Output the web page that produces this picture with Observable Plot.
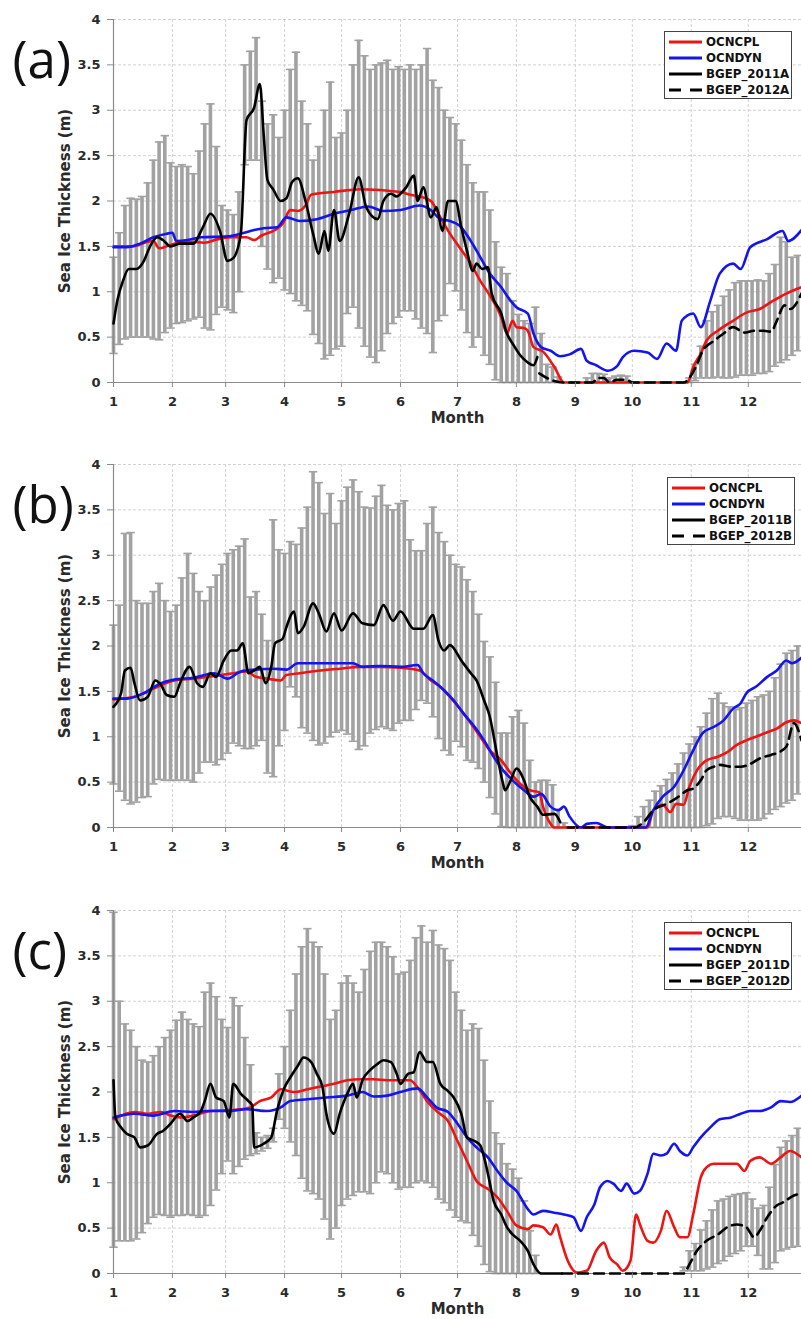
<!DOCTYPE html>
<html><head><meta charset="utf-8">
<script src="https://cdn.jsdelivr.net/npm/d3@7"></script>
<script src="https://cdn.jsdelivr.net/npm/@observablehq/plot@0.6"></script>
<style>
body{margin:0;background:#fff;}
#chart{position:relative;width:801px;height:1319px;overflow:hidden;font-family:"DejaVu Sans",sans-serif;}
.panel{position:absolute;left:0;}
.legend{position:absolute;}
</style></head><body><div id="chart"></div>
<script>
// ---- axes ----
const monthStarts = [0,31,59,90,120,151,181,212,243,273,304,334];   // day of year at start of each month
const monthLabels = ["1","2","3","4","5","6","7","8","9","10","11","12"];
const yTicks = [0,0.5,1,1.5,2,2.5,3,3.5,4];
const barStep = 3; // days between error bars
const seriesNames = ["OCNCPL","OCNDYN"];

// ---- panel (a) ----
const hiA = [1.38,1.65,1.95,2.03,2.02,2.05,2.2,2.45,2.65,2.72,2.42,2.38,2.4,2.38,2.3,2.55,2.85,3.07,2.6,1.95,1.9,1.85,2.1,3.5,3.65,3.8,3.1,2.85,2.95,2.7,3.0,3.45,3.64,3.1,2.85,2.45,2.6,3.0,3.31,2.7,2.75,3.0,3.5,3.77,3.6,3.45,3.5,3.52,3.55,3.45,3.48,3.45,3.5,3.45,3.5,3.68,3.33,3.25,3.0,2.92,2.85,2.67,2.4,2.2,2.1,2.1,1.9,1.55,1.27,1.2,0.9,0.75,0.68,0.65,0.83,0.54,0.2,0.17,0.06,null,null,null,null,0.05,0.1,0.1,0.09,0.05,0.07,0.08,0.07,null,null,null,null,null,null,null,null,null,null,0.05,0.2,0.4,0.68,0.78,0.85,0.95,1.02,1.1,1.12,1.12,1.12,1.13,1.12,1.2,1.3,1.6,1.55,1.38,1.4];
const loA = [0.32,0.42,0.48,0.5,0.5,0.5,0.5,0.48,0.47,0.55,0.6,0.65,0.66,0.68,0.7,0.72,0.6,0.58,0.75,0.83,0.8,0.77,1.0,2.4,2.45,2.45,1.5,1.25,1.1,1.15,1.02,0.98,0.9,0.85,0.79,0.53,0.43,0.26,0.3,0.37,0.4,0.76,0.83,0.6,0.4,0.28,0.22,0.35,0.54,0.65,0.72,0.79,0.79,0.7,0.6,0.54,0.33,0.68,0.74,1.09,1.01,0.8,0.55,0.39,0.5,0.3,0.2,0.03,0,0,0,0,0,0,0,0,0,0,0,null,null,null,null,0,0,0,0,0,0,0,0,null,null,null,null,null,null,null,null,null,null,0,0.02,0.05,0.05,0.05,0.06,0.05,0.05,0.06,0.08,0.08,0.08,0.1,0.1,0.12,0.18,0.22,0.25,0.3,0.35];
const redA = [[0,1.5],[10,1.5],[18,1.55],[21,1.56],[24,1.48],[28,1.5],[32,1.53],[40,1.55],[48,1.54],[55,1.58],[62,1.6],[70,1.6],[74,1.57],[78,1.62],[85,1.68],[89,1.75],[93,1.9],[97,1.89],[101,1.95],[104,2.07],[116,2.1],[130,2.13],[151,2.1],[156,2.07],[161,2.05],[167,2.0],[172,1.82],[177,1.64],[182,1.49],[188,1.31],[193,1.12],[198,0.96],[204,0.72],[207,0.54],[210,0.68],[212,0.61],[216,0.6],[218,0.57],[221,0.39],[226,0.34],[232,0.17],[237,0],[302,0],[305,0.17],[309,0.32],[312,0.46],[318,0.57],[326,0.68],[333,0.77],[340,0.81],[347,0.9],[354,0.98],[362,1.05]];
const blueA = [[0,1.49],[7,1.49],[14,1.53],[21,1.6],[28,1.64],[31,1.65],[33,1.56],[39,1.57],[46,1.6],[60,1.61],[67,1.64],[74,1.68],[79,1.7],[86,1.71],[91,1.82],[98,1.78],[107,1.8],[116,1.86],[125,1.9],[134,1.94],[142,1.89],[151,1.9],[161,1.95],[167,1.9],[172,1.8],[177,1.78],[182,1.73],[188,1.56],[193,1.38],[198,1.2],[204,1.05],[209,0.9],[212,0.83],[218,0.76],[221,0.54],[225,0.39],[230,0.35],[235,0.29],[240,0.31],[246,0.37],[249,0.24],[254,0.19],[260,0.13],[265,0.18],[268,0.28],[274,0.35],[281,0.33],[286,0.26],[291,0.43],[296,0.35],[299,0.68],[305,0.76],[309,0.61],[314,0.9],[319,1.2],[326,1.31],[330,1.25],[335,1.49],[344,1.58],[352,1.67],[355,1.56],[362,1.68]];
const blackA = [[0,0.65],[2,0.9],[5,1.12],[8,1.25],[12,1.25],[16,1.34],[19,1.49],[23,1.6],[26,1.57],[30,1.5],[35,1.53],[42,1.53],[47,1.71],[51,1.86],[56,1.67],[60,1.34],[63,1.37],[67,1.64],[70,2.89],[74,3.03],[77,3.29],[79,2.74],[81,2.23],[84,2.13],[88,2.0],[91,2.03],[94,2.21],[97,2.25],[101,2.0],[105,1.64],[108,1.42],[111,1.67],[113,1.45],[116,1.9],[119,1.56],[124,1.86],[129,2.26],[133,1.93],[139,1.8],[142,2.0],[146,2.08],[149,2.05],[151,2.08],[154,2.15],[158,2.28],[160,2.0],[163,2.15],[167,1.82],[170,1.93],[173,1.67],[176,2.0],[180,2.0],[183,1.71],[186,1.45],[189,1.23],[191,1.31],[194,1.25],[197,1.27],[199,0.98],[204,0.76],[207,0.54],[210,0.43],[214,0.3],[218,0.22],[221,0.19],[223,0.28]];
const dashA = [[224,0.1],[228,0.05],[237,0],[252,0],[255,0.05],[258,0.05],[261,0],[265,0.03],[270,0.03],[273,0],[300,0],[303,0.05],[307,0.2],[310,0.35],[316,0.46],[321,0.54],[326,0.61],[332,0.55],[337,0.57],[342,0.57],[346,0.56],[349,0.68],[353,0.85],[356,0.81],[362,0.98]];

// ---- panel (b) ----
const hiB = [2.23,2.45,3.24,3.25,2.5,2.47,2.47,2.6,2.69,2.5,2.38,2.45,2.75,3.02,2.8,2.6,2.5,2.65,2.78,2.9,3.02,3.06,3.1,3.18,2.54,2.6,2.35,2.06,3.39,3.06,3.02,3.15,3.12,3.3,3.53,3.92,3.8,3.46,3.68,3.35,3.6,3.75,3.83,3.7,3.53,3.52,3.65,3.77,3.55,3.5,3.57,3.6,3.17,3.05,3.05,3.35,3.53,3.25,3.15,3.0,2.9,2.87,2.73,2.6,2.35,2.05,1.88,1.6,1.04,1.04,1.22,1.29,1.15,0.74,0.5,0.52,0.52,0.47,0.2,0.05,null,null,null,null,null,null,null,null,null,null,null,0.02,0.12,0.23,0.3,0.4,0.46,0.53,0.6,0.7,0.82,0.92,1.0,1.11,1.26,1.42,1.48,1.37,1.33,1.3,1.32,1.37,1.4,1.44,1.46,1.5,1.65,1.8,1.92,1.95,2.0];
const loB = [0.48,0.4,0.3,0.26,0.28,0.33,0.34,0.48,0.53,0.52,0.52,0.52,0.52,0.52,0.5,0.6,0.72,0.72,0.69,0.75,0.82,0.93,0.9,0.87,0.87,0.9,0.96,0.6,0.56,0.9,1.07,1.55,1.44,1.1,1.04,0.96,0.91,0.93,1.0,1.05,1.07,1.03,0.95,0.86,0.9,1.04,1.08,1.11,1.09,1.07,1.15,1.18,1.18,1.3,1.4,1.37,1.22,0.98,0.85,0.8,0.95,0.89,0.74,0.72,0.65,0.5,0.33,0.15,0.01,0,0,0,0,0,0,0,0,0,0,0,null,null,null,null,null,null,null,null,null,null,null,0,0,0,0,0,0,0,0,0,0,0,0,0,0.02,0.04,0.1,0.12,0.12,0.1,0.08,0.08,0.08,0.08,0.1,0.15,0.2,0.23,0.27,0.3,0.37];
const redB = [[0,1.41],[11,1.44],[21,1.53],[32,1.62],[42,1.64],[53,1.67],[63,1.7],[70,1.72],[75,1.66],[81,1.64],[88,1.62],[91,1.68],[98,1.7],[109,1.73],[119,1.75],[130,1.77],[140,1.77],[151,1.76],[161,1.73],[167,1.62],[172,1.55],[177,1.44],[183,1.29],[188,1.15],[193,1.0],[198,0.85],[204,0.74],[209,0.6],[214,0.48],[219,0.41],[224,0.39],[226,0.23],[230,0.04],[232,0],[281,0],[284,0.19],[289,0.25],[293,0.17],[296,0.26],[300,0.25],[303,0.45],[307,0.63],[312,0.74],[318,0.78],[323,0.83],[328,0.91],[333,0.96],[338,1.0],[344,1.05],[349,1.09],[354,1.16],[358,1.18],[362,1.15]];
const blueB = [[0,1.42],[7,1.42],[16,1.48],[25,1.59],[32,1.63],[42,1.65],[53,1.7],[60,1.64],[67,1.72],[75,1.74],[84,1.75],[91,1.74],[97,1.81],[109,1.81],[119,1.81],[126,1.81],[131,1.77],[140,1.78],[151,1.77],[160,1.79],[163,1.7],[168,1.62],[174,1.51],[179,1.4],[184,1.26],[190,1.11],[195,0.96],[200,0.78],[205,0.63],[210,0.52],[216,0.41],[221,0.34],[225,0.37],[230,0.23],[234,0.19],[237,0.23],[240,0.12],[246,0],[249,0.04],[254,0.05],[260,0],[280,0],[284,0.19],[289,0.34],[295,0.45],[300,0.63],[305,0.85],[310,1.04],[316,1.11],[321,1.18],[326,1.31],[330,1.37],[333,1.48],[338,1.55],[344,1.66],[349,1.73],[354,1.84],[357,1.81],[362,1.87]];
const blackB = [[0,1.33],[4,1.48],[6,1.73],[9,1.76],[11,1.59],[14,1.4],[18,1.44],[22,1.62],[25,1.57],[28,1.46],[32,1.44],[35,1.59],[40,1.77],[44,1.59],[47,1.55],[51,1.7],[54,1.66],[58,1.84],[62,1.95],[65,1.95],[68,2.03],[71,1.7],[74,1.73],[77,1.77],[80,1.59],[83,1.77],[85,2.03],[89,2.08],[91,2.21],[95,2.38],[97,2.14],[100,2.21],[105,2.47],[108,2.36],[112,2.16],[116,2.36],[120,2.17],[126,2.36],[131,2.25],[137,2.23],[142,2.45],[147,2.28],[151,2.38],[158,2.19],[163,2.19],[168,2.34],[171,2.06],[174,1.95],[177,2.01],[183,1.84],[188,1.7],[191,1.62],[195,1.4],[198,1.22],[202,0.78],[205,0.48],[206,0.41],[209,0.52],[212,0.65],[216,0.52],[219,0.34],[223,0.23],[226,0.14],[232,0.15],[235,0.06]];
const dashB = [[239,0],[274,0],[279,0.06],[284,0.19],[291,0.26],[296,0.32],[302,0.41],[305,0.43],[309,0.52],[312,0.63],[316,0.67],[319,0.69],[325,0.67],[330,0.67],[335,0.7],[340,0.76],[346,0.8],[349,0.82],[354,0.89],[358,1.15],[362,0.96]];

// ---- panel (c) ----
const hiC = [3.98,3.0,2.75,2.68,2.5,2.35,2.33,2.4,2.5,2.6,2.68,2.79,2.88,2.8,2.75,2.72,3.1,3.2,3.05,2.8,2.71,3.04,2.95,2.6,2.3,1.55,1.5,1.52,1.6,2.2,2.5,2.9,3.3,3.6,3.8,3.65,3.6,3.3,2.8,2.9,3.2,3.28,3.2,3.1,3.35,3.55,3.65,3.65,3.6,3.49,3.3,3.32,3.45,3.7,3.83,3.65,3.78,3.62,3.58,3.45,3.1,2.9,2.68,2.75,2.7,2.35,1.9,1.55,1.43,1.21,1.15,1.05,0.8,0.47,0.2,null,null,null,null,null,null,null,null,null,null,null,null,null,null,null,null,null,null,null,null,null,null,null,null,null,0.07,0.25,0.33,0.48,0.58,0.7,0.8,0.82,0.85,0.87,0.88,0.89,0.82,0.72,0.75,0.95,1.2,1.39,1.46,1.52,1.6];
const loC = [0.29,0.36,0.36,0.36,0.38,0.45,0.55,0.62,0.65,0.64,0.62,0.64,0.64,0.65,0.64,0.62,0.64,0.75,0.92,1.1,1.24,1.1,1.18,1.26,1.3,1.32,1.35,1.38,1.45,1.7,1.6,1.45,1.3,1.05,0.91,0.88,0.82,0.6,0.38,0.5,0.75,0.82,0.86,0.9,0.9,0.88,1.0,1.12,1.1,1.0,0.93,0.95,0.95,1.0,1.02,1.0,0.95,0.82,0.78,0.7,0.62,0.58,0.56,0.42,0.3,0.1,0.02,0,0,0,0,0,0,0,0,null,null,null,null,null,null,null,null,null,null,null,null,null,null,null,null,null,null,null,null,null,null,null,null,null,0.03,0.03,0.03,0.03,0.05,0.07,0.11,0.14,0.19,0.22,0.25,0.3,0.3,0.2,0.05,0.05,0.12,0.25,0.27,0.29,0.3];
const redC = [[0,1.7],[11,1.78],[18,1.76],[25,1.78],[30,1.74],[35,1.72],[42,1.74],[51,1.79],[60,1.8],[67,1.81],[72,1.83],[77,1.9],[83,1.94],[88,2.03],[95,2.0],[102,2.03],[109,2.06],[116,2.09],[123,2.13],[130,2.14],[137,2.14],[144,2.13],[151,2.13],[156,2.13],[160,2.05],[165,1.9],[170,1.79],[176,1.68],[181,1.46],[186,1.24],[191,1.02],[197,0.93],[202,0.84],[207,0.69],[212,0.53],[218,0.49],[221,0.53],[226,0.51],[230,0.43],[233,0.54],[235,0.4],[239,0.14],[244,0.01],[249,0.03],[254,0.25],[258,0.34],[261,0.18],[265,0.1],[268,0.03],[272,0.14],[275,0.65],[277,0.54],[281,0.36],[284,0.34],[288,0.47],[291,0.69],[295,0.51],[298,0.4],[302,0.4],[305,0.65],[309,1.06],[312,1.17],[316,1.21],[323,1.21],[328,1.21],[332,1.13],[335,1.24],[340,1.28],[346,1.21],[351,1.28],[356,1.35],[362,1.28]];
const blueC = [[0,1.72],[11,1.76],[21,1.74],[32,1.79],[42,1.78],[49,1.79],[60,1.79],[70,1.81],[81,1.79],[88,1.83],[93,1.9],[102,1.92],[112,1.94],[123,1.96],[131,2.0],[137,1.95],[144,1.96],[151,2.0],[160,2.04],[165,1.94],[170,1.83],[176,1.78],[181,1.65],[186,1.5],[191,1.39],[197,1.28],[202,1.13],[207,1.0],[212,0.91],[218,0.71],[221,0.65],[226,0.69],[232,0.67],[237,0.65],[242,0.62],[246,0.47],[249,0.62],[253,0.76],[256,0.95],[260,1.02],[263,0.99],[267,0.91],[270,0.99],[274,0.88],[277,0.91],[281,1.1],[284,1.32],[288,1.3],[291,1.32],[295,1.43],[298,1.35],[302,1.3],[305,1.39],[309,1.5],[314,1.61],[319,1.7],[325,1.72],[330,1.76],[335,1.79],[340,1.79],[346,1.83],[351,1.9],[356,1.89],[362,1.96]];
const blackC = [[0,2.13],[1,1.72],[4,1.61],[7,1.54],[11,1.5],[14,1.39],[18,1.41],[23,1.54],[26,1.57],[30,1.65],[35,1.76],[39,1.68],[42,1.72],[46,1.79],[48,1.9],[51,2.09],[54,1.94],[58,1.9],[61,1.72],[63,2.09],[67,1.98],[71,1.9],[73,1.85],[74,1.39],[79,1.43],[83,1.5],[86,1.79],[90,2.05],[93,2.16],[97,2.29],[100,2.38],[104,2.33],[107,2.2],[110,2.05],[112,1.76],[116,1.54],[119,1.76],[123,1.98],[126,2.09],[128,1.94],[131,2.13],[135,2.24],[139,2.31],[142,2.35],[146,2.33],[149,2.2],[151,2.09],[155,2.2],[158,2.22],[161,2.44],[165,2.33],[168,2.33],[172,2.09],[176,2.01],[179,1.94],[183,1.76],[186,1.5],[190,1.46],[193,1.41],[197,1.1],[200,0.8],[204,0.65],[207,0.51],[210,0.43],[214,0.36],[218,0.25],[221,0.1],[225,0],[236,0]];
const dashC = [[236,0],[300,0],[303,0.1],[307,0.25],[312,0.36],[318,0.43],[323,0.51],[328,0.54],[333,0.51],[337,0.4],[340,0.47],[344,0.62],[349,0.75],[352,0.78],[358,0.86],[362,0.88]];

// ---- styling ----
const RED = "#ee1414", BLUE = "#1414ee", BLACK = "#000", GREY = "#a2a2a2";
const DASH = "10,6";
const CURVE = "monotone-x";
const capSymbol = {draw(ctx, size){ const w = Math.sqrt(size/Math.PI); ctx.moveTo(-w,0); ctx.lineTo(w,0); }};

const panels = [
  {tag:"(a)", top:0, height:440, mt:19, mb:58, hi:hiA, lo:loA, red:redA, blue:blueA, black:blackA, dash:dashA, obs:["BGEP_2011A","BGEP_2012A"], leg:{left:664, top:31}},
  {tag:"(b)", top:440, height:440, mt:24, mb:53, hi:hiB, lo:loB, red:redB, blue:blueB, black:blackB, dash:dashB, obs:["BGEP_2011B","BGEP_2012B"], leg:{left:667, top:477-440}},
  {tag:"(c)", top:880, height:439, mt:30, mb:46, hi:hiC, lo:loC, red:redC, blue:blueC, black:blackC, dash:dashC, obs:["BGEP_2011D","BGEP_2012D"], leg:{left:664, top:922-880}}
];

const chart = document.getElementById("chart");
const toXY = arr => arr.map(([d,v]) => ({d, v}));

for (const p of panels) {
  const bars = p.hi.map((h,i) => ({d: i*barStep, hi: h, lo: p.lo[i]})).filter(b => b.hi != null);
  const plot = Plot.plot({
    width: 801, height: p.height,
    marginLeft: 113, marginRight: 0, marginTop: p.mt, marginBottom: p.mb,
    style: {fontFamily: "DejaVu Sans", background: "transparent", overflow: "visible"},
    x: {domain: [0, 362], axis: null},
    y: {domain: [0, 4], axis: null},
    marks: [
      Plot.gridX(monthStarts, {stroke: "#d2d2d2", strokeOpacity: 1, strokeDasharray: "3,2"}),
      Plot.gridY(yTicks, {stroke: "#d2d2d2", strokeOpacity: 1, strokeDasharray: "3,2"}),
      Plot.ruleX(bars, {x: "d", y1: "lo", y2: "hi", stroke: GREY, strokeWidth: 3.6}),
      Plot.dot(bars, {x: "d", y: "hi", symbol: capSymbol, r: 4.2, stroke: GREY, strokeWidth: 1.6, fill: "none"}),
      Plot.dot(bars, {x: "d", y: "lo", symbol: capSymbol, r: 4.2, stroke: GREY, strokeWidth: 1.6, fill: "none"}),
      Plot.ruleY([0], {stroke: "#8a8a8a", strokeWidth: 1.2}),
      Plot.ruleX([0], {stroke: "#8a8a8a", strokeWidth: 1.2}),
      Plot.line(toXY(p.red), {x: "d", y: "v", stroke: RED, strokeWidth: 2.6, curve: CURVE}),
      Plot.line(toXY(p.blue), {x: "d", y: "v", stroke: BLUE, strokeWidth: 2.6, curve: CURVE}),
      Plot.line(toXY(p.dash), {x: "d", y: "v", stroke: BLACK, strokeWidth: 2.6, strokeDasharray: DASH, curve: CURVE}),
      Plot.line(toXY(p.black), {x: "d", y: "v", stroke: BLACK, strokeWidth: 2.6, curve: CURVE}),
      Plot.axisY(yTicks, {tickSize: 6, tickPadding: 7, stroke: "#8a8a8a", fill: "#2a2a2a", fontSize: 13, fontWeight: "bold", tickFormat: d => String(d), label: null}),
      Plot.axisX(monthStarts, {tickSize: 5, tickPadding: 9, stroke: "#8a8a8a", fill: "#2a2a2a", fontSize: 13, fontWeight: "bold", tickFormat: d => monthLabels[monthStarts.indexOf(d)], label: null}),
      Plot.text(["Sea Ice Thickness (m)"], {frameAnchor: "left", dx: -48, rotate: -90, textAnchor: "middle", lineAnchor: "middle", fontSize: 15, fontWeight: "bold", fill: "#2a2a2a"}),
      Plot.text(["Month"], {frameAnchor: "bottom", dy: 40, fontSize: 15, fontWeight: "bold", fill: "#2a2a2a"}),
      Plot.text([p.tag], {frameAnchor: "top-left", dx: -101, dy: 58, textAnchor: "start", lineAnchor: "bottom", fontSize: 51, fontFamily: "Open Sans", fill: "#111"})
    ]
  });
  const wrap = document.createElement("div");
  wrap.className = "panel";
  wrap.style.top = p.top + "px";
  wrap.appendChild(plot);

  // legend
  const names = [...seriesNames, ...p.obs];
  const styles = [{c: RED}, {c: BLUE}, {c: BLACK}, {c: BLACK, dash: "12,9"}];
  const ns = "http://www.w3.org/2000/svg";
  const lg = document.createElementNS(ns, "svg");
  lg.setAttribute("width", 129); lg.setAttribute("height", 69);
  lg.setAttribute("class", "legend");
  lg.style.left = p.leg.left + "px"; lg.style.top = p.leg.top + "px";
  const box = document.createElementNS(ns, "rect");
  box.setAttribute("x", 0.5); box.setAttribute("y", 0.5); box.setAttribute("width", 127); box.setAttribute("height", 67);
  box.setAttribute("fill", "#fff"); box.setAttribute("stroke", "#444"); box.setAttribute("stroke-width", 1);
  lg.appendChild(box);
  names.forEach((n, i) => {
    const y = 11 + i * 16;
    const ln = document.createElementNS(ns, "line");
    ln.setAttribute("x1", 5); ln.setAttribute("x2", 38); ln.setAttribute("y1", y); ln.setAttribute("y2", y);
    ln.setAttribute("stroke", styles[i].c); ln.setAttribute("stroke-width", 2.8);
    if (styles[i].dash) ln.setAttribute("stroke-dasharray", styles[i].dash);
    lg.appendChild(ln);
    const t = document.createElementNS(ns, "text");
    t.setAttribute("x", 42); t.setAttribute("y", y); t.setAttribute("dy", "0.36em");
    t.setAttribute("font-family", "DejaVu Sans"); t.setAttribute("font-weight", "bold");
    t.setAttribute("font-size", 11.8); t.setAttribute("fill", "#111");
    t.textContent = n;
    lg.appendChild(t);
  });
  wrap.appendChild(lg);
  chart.appendChild(wrap);
}
</script></body></html>
